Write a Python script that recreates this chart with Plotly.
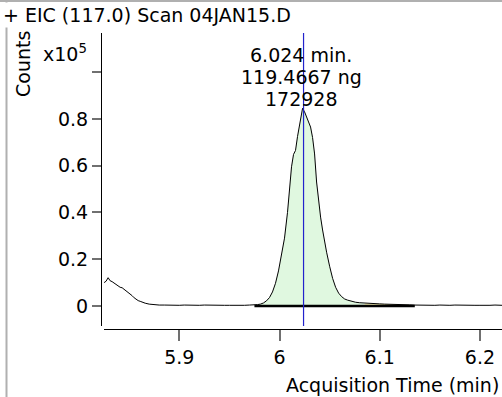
import plotly.graph_objects as go
import numpy as np

# acquisition time (min) and counts (x10^5)
time = [5.825, 5.827, 5.829, 5.831, 5.833, 5.835, 5.837, 5.839, 5.841, 5.843,
        5.845, 5.847, 5.849, 5.851, 5.853, 5.855, 5.857, 5.859, 5.861, 5.863,
        5.866, 5.870, 5.875, 5.880, 5.885, 5.890, 5.895, 5.900, 5.905, 5.910,
        5.915, 5.920, 5.925, 5.930, 5.935, 5.940, 5.945, 5.950, 5.955, 5.960,
        5.965, 5.970, 5.975,
        5.978, 5.981, 5.984, 5.987, 5.990, 5.993, 5.996, 5.999, 6.002, 6.005,
        6.008, 6.010, 6.012, 6.014, 6.016, 6.018, 6.020, 6.022, 6.023, 6.025,
        6.027, 6.029, 6.031, 6.033, 6.035, 6.037, 6.039, 6.041, 6.043, 6.045,
        6.047, 6.050, 6.053, 6.056, 6.059, 6.062, 6.065, 6.068, 6.072, 6.076,
        6.080, 6.085, 6.090, 6.095, 6.100, 6.105, 6.110, 6.115, 6.120, 6.125,
        6.130, 6.135,
        6.140, 6.145, 6.150, 6.155, 6.160, 6.165, 6.170, 6.175, 6.180, 6.185,
        6.190, 6.195, 6.200, 6.205, 6.210, 6.215, 6.222]
counts = [0.100, 0.106, 0.121, 0.108, 0.104, 0.098, 0.094, 0.085, 0.080, 0.078,
          0.071, 0.068, 0.058, 0.052, 0.044, 0.035, 0.027, 0.023, 0.020, 0.016,
          0.012, 0.008, 0.005, 0.004, 0.004, 0.003, 0.004, 0.003, 0.004, 0.003,
          0.002, 0.003, 0.004, 0.003, 0.003, 0.002, 0.003, 0.003, 0.002, 0.003,
          0.003, 0.004, 0.004,
          0.006, 0.008, 0.013, 0.022, 0.036, 0.060, 0.097, 0.150, 0.220, 0.290,
          0.400, 0.490, 0.595, 0.648, 0.665, 0.725, 0.781, 0.830, 0.845, 0.830,
          0.808, 0.790, 0.765, 0.720, 0.650, 0.530, 0.450, 0.380, 0.325, 0.275,
          0.230, 0.170, 0.118, 0.080, 0.055, 0.040, 0.030, 0.025, 0.020, 0.016,
          0.014, 0.012, 0.011, 0.010, 0.009, 0.008, 0.008, 0.007, 0.007, 0.006,
          0.005, 0.004,
          0.003, 0.004, 0.002, 0.003, 0.004, 0.002, 0.003, 0.004, 0.003, 0.002,
          0.004, 0.003, 0.003, 0.002, 0.003, 0.004, 0.003]

peak_rt = 6.024
peak_label = ["6.024 min.", "119.4667 ng", "172928"]
integ_start, integ_split, integ_end = 5.975, 6.085, 6.135

x_ticks = [5.9, 6.0, 6.1, 6.2]
x_ticktext = ["5.9", "6", "6.1", "6.2"]
y_ticks = [0, 0.2, 0.4, 0.6, 0.8, 1.0]
y_ticktext = ["0", "0.2", "0.4", "0.6", "0.8", ""]

t = np.array(time)
c = np.array(counts)
FONT = "DejaVu Sans"
W, H = 502, 397

fig = go.Figure()

m1 = (t >= integ_start) & (t <= integ_split)
fig.add_trace(go.Scatter(x=t[m1], y=c[m1], mode="lines", fill="tozeroy",
                         fillcolor="#e0f8e0", line=dict(width=0), hoverinfo="skip"))
m2 = (t >= integ_split) & (t <= integ_end)
fig.add_trace(go.Scatter(x=t[m2], y=c[m2], mode="lines", fill="tozeroy",
                         fillcolor="#f4eeb0", line=dict(width=0), hoverinfo="skip"))

fig.add_trace(go.Scatter(x=time, y=counts, mode="lines",
                         line=dict(color="black", width=1)))

# integration baseline
fig.add_trace(go.Scatter(x=[integ_start, integ_end], y=[0, 0], mode="lines",
                         line=dict(color="black", width=2.5)))

y_dom = [1 - 326 / H, 1 - 33 / H]
fig.update_layout(
    width=W, height=H,
    margin=dict(l=0, r=0, t=0, b=0),
    paper_bgcolor="white", plot_bgcolor="white",
    showlegend=False,
    font=dict(family=FONT, size=19, color="black"),
    xaxis=dict(domain=[104 / W, 1], range=[5.8249, 6.222],
               anchor="free", position=1 - 329 / H,
               tickvals=x_ticks, ticktext=x_ticktext,
               ticks="outside", ticklen=11, tickcolor="#707070", tickwidth=2,
               showline=True, linecolor="black", linewidth=1,
               showgrid=False, zeroline=False),
    yaxis=dict(domain=y_dom, range=[-0.0855, 1.167],
               anchor="free", position=101 / W,
               tickvals=y_ticks, ticktext=y_ticktext,
               ticks="outside", ticklen=9, tickcolor="#707070", tickwidth=2,
               showline=True, linecolor="black", linewidth=1,
               showgrid=False, zeroline=False),
)

# retention time marker
fig.add_shape(type="line", xref="x", yref="paper", x0=peak_rt, x1=peak_rt,
              y0=y_dom[0], y1=y_dom[1], line=dict(color="#2222cc", width=1.2))

# frame lines
fig.add_shape(type="line", xref="paper", yref="paper", x0=6.5 / W, x1=6.5 / W,
              y0=0, y1=1, line=dict(color="#b0b0b0", width=2))
fig.add_shape(type="line", xref="paper", yref="paper", x0=0, x1=1,
              y0=1 - 1 / H, y1=1 - 1 / H, line=dict(color="#b0b0b0", width=2))

fig.add_annotation(x=1 / W, y=1 - 2 / H, xref="paper", yref="paper",
                   xanchor="left", yanchor="top", showarrow=False,
                   text="+ EIC (117.0) Scan 04JAN15.D", bgcolor="white")
fig.add_annotation(x=23 / W, y=1 - 64 / H, xref="paper", yref="paper",
                   xanchor="center", yanchor="middle",
                   textangle=-90, showarrow=False, text="Counts")
fig.add_annotation(x=41 / W, y=1 - 53 / H, xref="paper", yref="paper",
                   xanchor="left", yanchor="middle", showarrow=False,
                   text="x10<sup>5</sup>")
for txt, yc in zip(peak_label, [55, 77, 99]):
    fig.add_annotation(x=6.0218, y=1 - yc / H, xref="x", yref="paper",
                       xanchor="center", yanchor="middle", showarrow=False,
                       text=txt)
fig.add_annotation(x=1 - 1 / W, y=1 - 385 / H, xref="paper", yref="paper",
                   xanchor="right", yanchor="middle", showarrow=False,
                   text="Acquisition Time (min)")

fig.write_html("out.html", config={"displayModeBar": False},
               post_script="document.body.style.margin='0';document.body.style.overflow='hidden';")
